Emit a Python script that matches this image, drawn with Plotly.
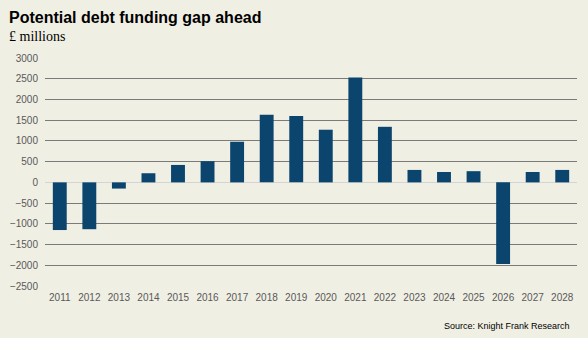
import plotly.graph_objects as go

years = [str(y) for y in range(2011, 2029)]
values = [-1150, -1130, -150, 220, 420, 510, 980, 1630, 1600, 1270,
          2530, 1340, 300, 250, 270, -1970, 250, 300]
y_ticks = [3000, 2500, 2000, 1500, 1000, 500, 0, -500, -1000, -1500, -2000, -2500]

BG = "#F0EFE4"
BAR = "#0B456D"
PW, PH = 532, 228  # plot area size in px

fig = go.Figure(go.Bar(x=years, y=values, marker=dict(color=BAR, line=dict(width=0))))

fig.update_layout(
    width=588, height=338,
    paper_bgcolor=BG, plot_bgcolor=BG,
    margin=dict(l=45, r=11, t=58, b=52),
    bargap=0.53,
    showlegend=False,
    font=dict(family="Liberation Sans, Arial", size=10, color="#595959"),
    annotations=[
        dict(text="<b>Potential debt funding gap ahead</b>", xref="paper", yref="paper",
             x=-(45 - 7) / PW, y=1 + (58 - 7) / PH, xanchor="left", yanchor="top", showarrow=False,
             font=dict(family="Liberation Sans, Arial", size=16, color="#000000")),
        dict(text="£ millions", xref="paper", yref="paper",
             x=-(45 - 7) / PW, y=1 + (58 - 27) / PH, xanchor="left", yanchor="top", showarrow=False,
             font=dict(family="Liberation Serif, Times New Roman", size=14, color="#000000")),
        dict(text="Source: Knight Frank Research", xref="paper", yref="paper",
             x=1 - 5 / PW, y=-33 / PH, xanchor="right", yanchor="top", showarrow=False,
             font=dict(family="Liberation Sans, Arial", size=9, color="#000000")),
    ],
)
fig.update_yaxes(range=[-2500, 3000], tickvals=y_ticks, showgrid=True,
                 gridcolor="#7A7A7A", gridwidth=1, zeroline=True,
                 zerolinecolor="#D4D4D4", zerolinewidth=1,
                 ticks="", ticklabelstandoff=6, showline=False)
fig.update_xaxes(showgrid=False, ticks="", showline=False, tickangle=0,
                 ticklabelstandoff=4)

fig.write_html("out.html")
